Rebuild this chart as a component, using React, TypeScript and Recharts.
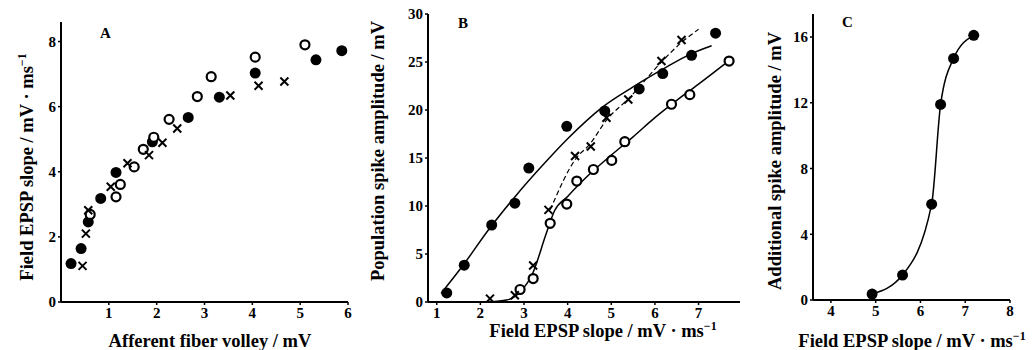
import { ComposedChart, Scatter, Line, XAxis, YAxis } from "recharts";

// Panel A: field EPSP slope vs afferent fiber volley
const aFilled = [
  { x: 0.21, y: 1.18 }, { x: 0.42, y: 1.64 }, { x: 0.57, y: 2.46 }, { x: 0.83, y: 3.18 },
  { x: 1.15, y: 3.98 }, { x: 1.91, y: 4.92 }, { x: 2.66, y: 5.67 }, { x: 3.31, y: 6.29 },
  { x: 4.06, y: 7.03 }, { x: 5.33, y: 7.44 }, { x: 5.87, y: 7.72 },
];
const aOpen = [
  { x: 0.61, y: 2.69 }, { x: 1.15, y: 3.23 }, { x: 1.24, y: 3.61 }, { x: 1.53, y: 4.15 },
  { x: 1.72, y: 4.69 }, { x: 1.94, y: 5.06 }, { x: 2.26, y: 5.61 }, { x: 2.85, y: 6.31 },
  { x: 3.14, y: 6.92 }, { x: 4.06, y: 7.52 }, { x: 5.1, y: 7.9 },
];
const aCross = [
  { x: 0.45, y: 1.11 }, { x: 0.52, y: 2.1 }, { x: 0.57, y: 2.82 }, { x: 1.04, y: 3.54 },
  { x: 1.39, y: 4.26 }, { x: 1.84, y: 4.51 }, { x: 2.12, y: 4.89 }, { x: 2.43, y: 5.33 },
  { x: 3.54, y: 6.34 }, { x: 4.13, y: 6.64 }, { x: 4.67, y: 6.77 },
];

// Panel B: population spike amplitude vs field EPSP slope
const bFilled = [
  { x: 1.23, y: 0.94 }, { x: 1.63, y: 3.84 }, { x: 2.26, y: 8.02 }, { x: 2.79, y: 10.29 },
  { x: 3.11, y: 13.95 }, { x: 3.98, y: 18.3 }, { x: 4.85, y: 19.9 }, { x: 5.64, y: 22.2 },
  { x: 6.18, y: 23.8 }, { x: 6.84, y: 25.7 }, { x: 7.39, y: 28.0 },
];
const bOpen = [
  { x: 2.91, y: 1.3 }, { x: 3.21, y: 2.44 }, { x: 3.6, y: 8.2 }, { x: 3.98, y: 10.2 },
  { x: 4.21, y: 12.6 }, { x: 4.59, y: 13.8 }, { x: 5.01, y: 14.75 }, { x: 5.31, y: 16.7 },
  { x: 6.38, y: 20.6 }, { x: 6.8, y: 21.6 }, { x: 7.7, y: 25.1 },
];
const bCross = [
  { x: 2.22, y: 0.35 }, { x: 2.79, y: 0.7 }, { x: 3.21, y: 3.8 }, { x: 3.56, y: 9.6 },
  { x: 4.17, y: 15.2 }, { x: 4.53, y: 16.2 }, { x: 4.89, y: 19.2 }, { x: 5.39, y: 21.1 },
  { x: 6.15, y: 25.1 }, { x: 6.61, y: 27.3 },
];
const bFilledFit = [
  { x: 1.1, y: 0.9 }, { x: 1.6, y: 3.8 }, { x: 2.2, y: 7.6 }, { x: 2.8, y: 11 },
  { x: 3.5, y: 14.6 }, { x: 4, y: 17 }, { x: 4.8, y: 20.3 }, { x: 5.5, y: 22.4 },
  { x: 6.2, y: 24.3 }, { x: 6.8, y: 25.8 }, { x: 7.3, y: 26.7 },
];
const bOpenFit = [
  { x: 2.2, y: 0 }, { x: 2.6, y: 0.2 }, { x: 2.9, y: 1.0 }, { x: 3.2, y: 3.0 },
  { x: 3.5, y: 7.0 }, { x: 3.7, y: 9.5 }, { x: 4.0, y: 11 }, { x: 4.5, y: 13.3 },
  { x: 5, y: 15.3 }, { x: 5.5, y: 17.2 }, { x: 6, y: 19.2 }, { x: 6.5, y: 21 },
  { x: 7, y: 22.7 }, { x: 7.6, y: 24.8 },
];
const bCrossFit = [
  { x: 3.6, y: 9.6 }, { x: 4.2, y: 15.0 }, { x: 4.5, y: 16.4 }, { x: 4.9, y: 19.0 },
  { x: 5.4, y: 21.2 }, { x: 6.15, y: 25.0 }, { x: 6.6, y: 27.0 }, { x: 7.0, y: 28.4 },
];

// Panel C: additional spike amplitude vs field EPSP slope
const cFilled = [
  { x: 4.92, y: 0.36 }, { x: 5.6, y: 1.52 }, { x: 6.25, y: 5.83 },
  { x: 6.45, y: 11.9 }, { x: 6.74, y: 14.7 }, { x: 7.19, y: 16.1 },
];

const ticksA_x = [1, 2, 3, 4, 5, 6];
const ticksA_y = [0, 2, 4, 6, 8];
const ticksB_x = [1, 2, 3, 4, 5, 6, 7];
const ticksB_y = [0, 5, 10, 15, 20, 25, 30];
const ticksC_x = [4, 5, 6, 7, 8];
const ticksC_y = [0, 4, 8, 12, 16];

const FONT = "'Liberation Serif', 'DejaVu Serif', serif";
const tickStyle = { fontSize: 15, fontWeight: 700, fill: "#000", fontFamily: FONT };
const axisLine = { stroke: "#000", strokeWidth: 2 };
const tickLine = { stroke: "#000", strokeWidth: 1.5 };

const FilledDot = (p: any) => <circle cx={p.cx} cy={p.cy} r={5.5} fill="#000" />;
const OpenDot = (p: any) => (
  <circle cx={p.cx} cy={p.cy} r={4.5} fill="#fff" stroke="#000" strokeWidth={2.2} />
);
const CrossDot = (p: any) => (
  <path
    d={`M${p.cx - 4},${p.cy - 4}L${p.cx + 4},${p.cy + 4}M${p.cx + 4},${p.cy - 4}L${p.cx - 4},${p.cy + 4}`}
    stroke="#000"
    strokeWidth={2}
  />
);

const Axes = ({ xd, yd, xt, yt, yw, xh }: any) => (
  <>
    <XAxis type="number" dataKey="x" domain={xd} ticks={xt} tick={tickStyle} axisLine={axisLine}
      tickLine={tickLine} tickSize={3} height={xh} allowDataOverflow interval={0} />
    <YAxis type="number" dataKey="y" domain={yd} ticks={yt} tick={tickStyle} axisLine={axisLine}
      tickLine={tickLine} tickSize={3} width={yw} allowDataOverflow interval={0} />
  </>
);

const labelStyle: any = { fontFamily: FONT, fontWeight: 700, fontSize: 18.5, fill: "#000" };

export default function App() {
  return (
    <div style={{ position: "absolute", left: 0, top: 0, width: 1034, height: 350, background: "#fff" }}>
      <div style={{ position: "absolute", left: 0, top: 0 }}>
        <ComposedChart width={360} height={350} margin={{ top: 22, right: 12, bottom: 0, left: 0 }}>
          {Axes({ xd: [0, 6], yd: [0, 8.6], xt: ticksA_x, yt: ticksA_y, yw: 61, xh: 48 })}
          <Scatter data={aFilled} shape={FilledDot} isAnimationActive={false} />
          <Scatter data={aOpen} shape={OpenDot} isAnimationActive={false} />
          <Scatter data={aCross} shape={CrossDot} isAnimationActive={false} />
        </ComposedChart>
      </div>
      <div style={{ position: "absolute", left: 340, top: 0 }}>
        <ComposedChart width={410} height={350} margin={{ top: 14, right: 10, bottom: 0, left: 0 }}>
          {Axes({ xd: [0.8, 7.95], yd: [0, 30], xt: ticksB_x, yt: ticksB_y, yw: 88, xh: 48 })}
          <Line data={bFilledFit} dataKey="y" type="monotone" dot={false} stroke="#000"
            strokeWidth={1.5} isAnimationActive={false} />
          <Line data={bOpenFit} dataKey="y" type="monotone" dot={false} stroke="#000"
            strokeWidth={1.5} isAnimationActive={false} />
          <Line data={bCrossFit} dataKey="y" type="monotone" dot={false} stroke="#000"
            strokeWidth={1.2} strokeDasharray="5 3" isAnimationActive={false} />
          <Scatter data={bFilled} shape={FilledDot} isAnimationActive={false} />
          <Scatter data={bOpen} shape={OpenDot} isAnimationActive={false} />
          <Scatter data={bCross} shape={CrossDot} isAnimationActive={false} />
        </ComposedChart>
      </div>
      <div style={{ position: "absolute", left: 730, top: 0 }}>
        <ComposedChart width={304} height={350} margin={{ top: 14, right: 24, bottom: 0, left: 0 }}>
          {Axes({ xd: [3.6, 8], yd: [0, 17.4], xt: ticksC_x, yt: ticksC_y, yw: 83, xh: 50 })}
          <Line data={cFilled} dataKey="y" type="monotone" dot={false} stroke="#000"
            strokeWidth={1.5} isAnimationActive={false} />
          <Scatter data={cFilled} shape={FilledDot} isAnimationActive={false} />
        </ComposedChart>
      </div>
      <svg width={1034} height={350} style={{ position: "absolute", left: 0, top: 0, pointerEvents: "none" }}>
        <text x={100} y={38} style={{ ...labelStyle, fontSize: 15 }}>A</text>
        <text x={458} y={28} style={{ ...labelStyle, fontSize: 15 }}>B</text>
        <text x={842} y={27} style={{ ...labelStyle, fontSize: 15 }}>C</text>
        <text x={210} y={347} textAnchor="middle" style={labelStyle}>Afferent fiber volley / mV</text>
        <text x={603} y={337} textAnchor="middle" style={labelStyle}>
          Field EPSP slope / mV · ms<tspan dy={-7} fontSize={12}>−1</tspan>
        </text>
        <text x={912} y={347} textAnchor="middle" style={labelStyle}>
          Field EPSP slope / mV · ms<tspan dy={-7} fontSize={12}>−1</tspan>
        </text>
        <text transform="translate(33,167) rotate(-90)" textAnchor="middle" style={labelStyle}>
          Field EPSP slope / mV · ms<tspan dy={-7} fontSize={12}>−1</tspan>
        </text>
        <text transform="translate(384,151) rotate(-90)" textAnchor="middle" style={labelStyle}>
          Population spike amplitude / mV
        </text>
        <text transform="translate(781,161) rotate(-90)" textAnchor="middle" style={labelStyle}>
          Additional spike amplitude / mV
        </text>
      </svg>
    </div>
  );
}
